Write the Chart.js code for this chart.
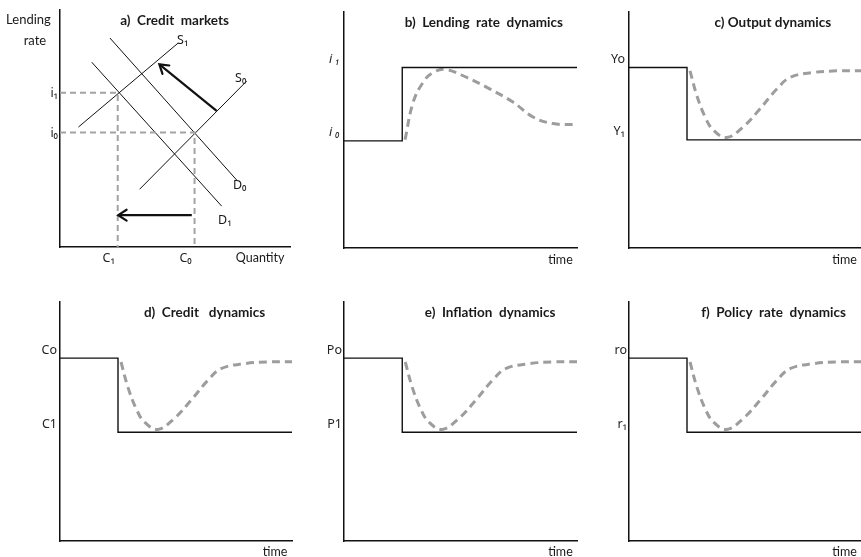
<!DOCTYPE html>
<html lang="en">
<head>
<meta charset="UTF-8">
<title>Credit tightening: transmission</title>
<script src="https://cdn.jsdelivr.net/npm/chart.js@4.4.0/dist/chart.umd.min.js"></script>
<style>
  body { margin: 0; background: #fff; }
  #wrap { position: relative; width: 861px; height: 557px; overflow: hidden; }
  #wrap canvas { position: absolute; }
</style>
</head>
<body>
<div id="wrap">
  <canvas id="panelA" width="295" height="272" style="left:0;top:0"></canvas>
  <canvas id="panelB" width="290" height="272" style="left:295px;top:0"></canvas>
  <canvas id="panelC" width="276" height="272" style="left:585px;top:0"></canvas>
  <canvas id="panelD" width="295" height="277" style="left:0;top:280px"></canvas>
  <canvas id="panelE" width="290" height="277" style="left:295px;top:280px"></canvas>
  <canvas id="panelF" width="276" height="277" style="left:585px;top:280px"></canvas>
</div>
<script>
const FONT = 'Lato, "Open Sans", "DejaVu Sans", sans-serif';
// symbols with subscripts read better in Noto Sans
const SYM_FONT = '"Noto Sans", "DejaVu Sans", sans-serif';

// a) credit market: quantity on x, lending rate on y (0..10 both)
const supplyS0 = [{x: 3.46, y: 2.43}, {x: 8.12, y: 6.99}];
const supplyS1 = [{x: 0.80, y: 5.05}, {x: 5.14, y: 8.59}];
const demandD0 = [{x: 2.17, y: 8.80}, {x: 7.70, y: 2.80}];
const demandD1 = [{x: 1.38, y: 7.78}, {x: 7.03, y: 1.72}];
const supplyShift = [{x: 6.81, y: 5.73}, {x: 4.32, y: 7.69}];
const creditShift = [{x: 5.73, y: 1.34}, {x: 2.53, y: 1.34}];
const marketRates = [4.82, 6.5];
const marketRateLabels = ['i₀', 'i₁'];
const marketCredit = [2.51, 5.85];
const marketCreditLabels = ['C₁', 'C₀'];

// shock date shared by the dynamics panels
const shockTime = 2.5;

// b) lending rate
const lendingLevels = [4.53, 7.63];
const lendingLabels = ['i ₀', 'i ₁'];
const lendingT = [2.62, 2.97, 3.39, 3.78, 4.33, 5.27, 6.27, 7.25, 8.11, 8.97, 10];
const lendingY = [4.58, 6.17, 7.0, 7.39, 7.55, 7.21, 6.72, 6.17, 5.54, 5.26, 5.22];

// c) - f) dip and recovery path
const recoveryT = [2.63, 2.92, 3.28, 3.63, 4.21, 4.93, 5.65, 6.37, 6.94, 7.94, 8.95, 10];
const recoveryY = [7.49, 6.46, 5.54, 4.99, 4.67, 5.13, 5.89, 6.72, 7.21, 7.42, 7.49, 7.5];

const outputLevels = [4.57, 7.63];
const outputLabels = ['Y₁', 'Yo'];
const creditLevels = [4.55, 7.65];
const creditLabels = ['C1', 'Co'];
const inflationLevels = [4.55, 7.65];
const inflationLabels = ['P1', 'Po'];
const policyLevels = [4.55, 7.65];
const policyLabels = ['r₁', 'ro'];

const toPoints = (xs, ys) => xs.map((x, i) => ({x, y: ys[i]}));
const stepPath = (before, after) => [
  {x: 0, y: before}, {x: shockTime, y: before},
  {x: shockTime, y: after}, {x: 10, y: after}
];

// text and arrow heads drawn on top of the datasets
Chart.register({
  id: 'panelDecor',
  afterDatasetsDraw(chart, args, opts) {
    const ctx = chart.ctx;
    const xs = chart.scales.x, ys = chart.scales.y;
    chart.data.datasets.forEach((ds, i) => {
      if (!ds.arrowHead) return;
      const pts = chart.getDatasetMeta(i).data;
      const head = pts[pts.length - 1], tail = pts[pts.length - 2];
      const ang = Math.atan2(head.y - tail.y, head.x - tail.x);
      const len = 10, spread = Math.PI / 5.5;
      ctx.save();
      ctx.strokeStyle = ds.borderColor;
      ctx.lineWidth = ds.borderWidth;
      ctx.lineCap = 'round';
      ctx.beginPath();
      ctx.moveTo(head.x - len * Math.cos(ang - spread), head.y - len * Math.sin(ang - spread));
      ctx.lineTo(head.x, head.y);
      ctx.lineTo(head.x - len * Math.cos(ang + spread), head.y - len * Math.sin(ang + spread));
      ctx.stroke();
      ctx.restore();
    });
    (opts.labels || []).forEach(l => {
      ctx.save();
      ctx.font = `${l.bold ? 'bold ' : ''}${l.size || 12.5}px ${l.family || FONT}`;
      ctx.fillStyle = '#1a1a1a';
      ctx.textAlign = l.align || 'center';
      ctx.textBaseline = 'middle';
      ctx.fillText(l.text, xs.getPixelForValue(l.x), ys.getPixelForValue(l.y));
      ctx.restore();
    });
  }
});

function solid(data, width) {
  return {data, showLine: true, borderColor: '#111', borderWidth: width || 1.4, pointRadius: 0, tension: 0};
}
function guide(data) {
  return {data, showLine: true, borderColor: '#a3a3a3', borderWidth: 2, borderDash: [6, 4], pointRadius: 0, tension: 0};
}
function response(data) {
  return {data, showLine: true, borderColor: '#9d9d9d', borderWidth: 3, borderDash: [8, 5],
          pointRadius: 0, tension: 0.4};
}
function arrow(data) {
  return Object.assign(solid(data, 2.2), {arrowHead: true});
}

function axisBase() {
  return {
    type: 'linear', min: 0, max: 10,
    grid: {display: false, drawTicks: false},
    border: {display: true, color: '#111', width: 1.5}
  };
}

function levelTicks(values, labels, font, padding, shift) {
  return {
    afterBuildTicks: s => { s.ticks = values.map(v => ({value: v})); },
    ticks: {
      callback: (v, i) => labels[i],
      color: '#222', padding, labelOffset: shift, autoSkip: false,
      font: Object.assign({family: SYM_FONT, size: 12.5}, font)
    }
  };
}

function makePanel(id, cfg) {
  const y = Object.assign(axisBase(), cfg.yTicks, {afterFit: s => { s.width = cfg.yWidth; }});
  const x = Object.assign(axisBase(), cfg.xTicks || {ticks: {display: false}}, {afterFit: s => { s.height = cfg.xHeight; }});
  return new Chart(document.getElementById(id), {
    type: 'scatter',
    data: {datasets: cfg.datasets},
    options: {
      responsive: false,
      animation: false,
      events: [],
      layout: {padding: cfg.padding},
      scales: {x, y},
      plugins: {
        legend: {display: false},
        tooltip: {enabled: false},
        panelDecor: {labels: cfg.labels}
      }
    }
  });
}

// a) Credit markets
makePanel('panelA', {
  yWidth: 60, xHeight: 25, padding: {top: 8, right: 5},
  datasets: [
    guide([{x: 0, y: marketRates[1]}, {x: marketCredit[0], y: marketRates[1]}, {x: marketCredit[0], y: 0}]),
    guide([{x: 0, y: marketRates[0]}, {x: marketCredit[1], y: marketRates[0]}, {x: marketCredit[1], y: 0}]),
    solid(supplyS0, 1), solid(supplyS1, 1), solid(demandD0, 1), solid(demandD1, 1),
    arrow(supplyShift), arrow(creditShift)
  ],
  yTicks: levelTicks(marketRates, marketRateLabels, {}, 2, 1),
  xTicks: levelTicks(marketCredit, marketCreditLabels, {}, 4, -9),
  labels: [
    {text: 'a)  Credit  markets', x: 4.98, y: 9.54, bold: true, size: 13.5},
    {text: 'Lending', x: -1.37, y: 9.58, size: 13},
    {text: 'rate', x: -1.09, y: 8.70, size: 13},
    {text: 'Quantity', x: 8.70, y: -0.46},
    {text: 'S₁', x: 5.09, y: 8.70, align: 'left', family: SYM_FONT, size: 12.5},
    {text: 'S₀', x: 7.61, y: 7.11, align: 'left', family: SYM_FONT, size: 12.5},
    {text: 'D₀', x: 7.52, y: 2.59, align: 'left', family: SYM_FONT, size: 12.5},
    {text: 'D₁', x: 6.87, y: 1.13, align: 'left', family: SYM_FONT, size: 12.5}
  ]
});

// b) Lending rate dynamics
makePanel('panelB', {
  yWidth: 49, xHeight: 24, padding: {top: 8, right: 8},
  datasets: [
    solid(stepPath(lendingLevels[0], lendingLevels[1])),
    response(toPoints(lendingT, lendingY))
  ],
  yTicks: levelTicks(lendingLevels, lendingLabels, {style: 'italic'}, 4, -8),
  labels: [
    {text: 'b)  Lending  rate  dynamics', x: 6.0, y: 9.54, bold: true, size: 13.5},
    {text: 'time', x: 9.29, y: -0.5}
  ]
});

// c) Output dynamics
makePanel('panelC', {
  yWidth: 44, xHeight: 24, padding: {top: 8, right: 0},
  datasets: [
    solid(stepPath(outputLevels[1], outputLevels[0])),
    response(toPoints(recoveryT, recoveryY))
  ],
  yTicks: levelTicks(outputLevels, outputLabels, {}, 4, -8),
  labels: [
    {text: 'c) Output dynamics', x: 6.2, y: 9.54, bold: true, size: 13.5},
    {text: 'time', x: 9.29, y: -0.5}
  ]
});

// d) Credit dynamics
makePanel('panelD', {
  yWidth: 60, xHeight: 16, padding: {top: 22, right: 3},
  datasets: [
    solid(stepPath(creditLevels[1], creditLevels[0])),
    response(toPoints(recoveryT, recoveryY))
  ],
  yTicks: levelTicks(creditLevels, creditLabels, {}, 3, -8),
  labels: [
    {text: 'd)  Credit   dynamics', x: 6.23, y: 9.54, bold: true, size: 13.5},
    {text: 'time', x: 9.27, y: -0.46}
  ]
});

// e) Inflation dynamics
makePanel('panelE', {
  yWidth: 49, xHeight: 16, padding: {top: 22, right: 8},
  datasets: [
    solid(stepPath(inflationLevels[1], inflationLevels[0])),
    response(toPoints(recoveryT, recoveryY))
  ],
  yTicks: levelTicks(inflationLevels, inflationLabels, {}, 2, -8),
  labels: [
    {text: 'e)  Inflation  dynamics', x: 6.27, y: 9.54, bold: true, size: 13.5},
    {text: 'time', x: 9.29, y: -0.46}
  ]
});

// f) Policy rate dynamics
makePanel('panelF', {
  yWidth: 44, xHeight: 16, padding: {top: 22, right: 0},
  datasets: [
    solid(stepPath(policyLevels[1], policyLevels[0])),
    response(toPoints(recoveryT, recoveryY))
  ],
  yTicks: levelTicks(policyLevels, policyLabels, {}, 2, -8),
  labels: [
    {text: 'f)  Policy  rate  dynamics', x: 6.23, y: 9.54, bold: true, size: 13.5},
    {text: 'time', x: 9.29, y: -0.46}
  ]
});
</script>
</body>
</html>
